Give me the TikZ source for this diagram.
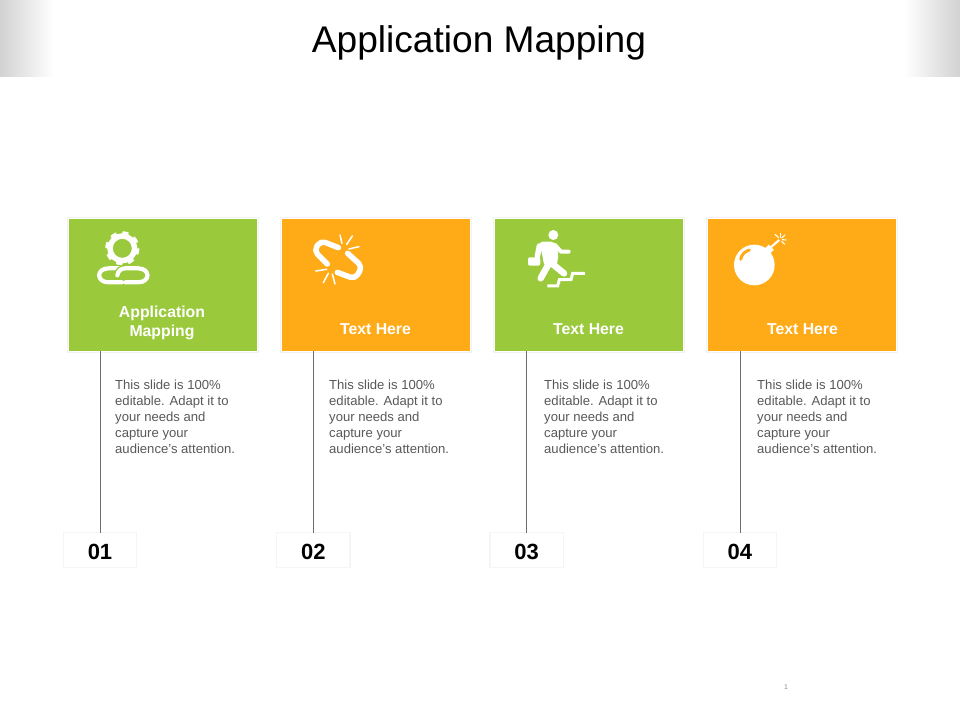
\documentclass[tikz,border=0pt]{standalone}
\usepackage{fontspec}
\setmainfont{Liberation Sans}
\usetikzlibrary{positioning}
\definecolor{cardgreen}{HTML}{9ACA3C}
\definecolor{cardorange}{HTML}{FFAB18}
\definecolor{bodygray}{HTML}{595959}
\definecolor{stemgray}{HTML}{6E6E6E}
\definecolor{cornergray}{HTML}{D2D2D2}
\tikzset{
    cardbox/.style={minimum width=189pt,minimum height=133pt,inner sep=0pt,draw=white,line width=1pt,
        preaction={draw=black!5,line width=3pt}},
    greencard/.style={cardbox,fill=cardgreen},
    orangecard/.style={cardbox,fill=cardorange},
    cardlabel/.style={text=white,font=\bfseries\fontsize{15.8}{19.5}\selectfont,align=center,inner sep=0pt},
    bodytext/.style={text=bodygray,font=\fontsize{13.1}{16}\selectfont,align=left,inner sep=0pt,anchor=north west},
    numbox/.style={minimum width=72pt,minimum height=34pt,inner sep=0pt,fill=white,text height=19pt,text depth=0pt,
        font=\bfseries\fontsize{22}{26}\selectfont,preaction={draw=black!4,line width=2.5pt}},
    stem/.style={draw=stemgray,line width=0.8pt},
    iconline/.style={draw=white,line width=5.5pt,line cap=round,line join=round},
    sparkline/.style={draw=white,line width=1.5pt,line cap=round},
    chainline/.style={iconline,line width=4.2pt,preaction={draw=cardgreen,line width=7pt}},
}
\begin{document}
\begin{tikzpicture}[x=1pt,y=-1pt,node distance=213.3pt,on grid]
    \useasboundingbox (0,0) rectangle (960,720);
    \fill[white] (0,0) rectangle (960,720);
    % top corners
    \shade[left color=cornergray,right color=white] (0,0) rectangle (54,76);
    \shade[left color=white,right color=cornergray] (904,0) rectangle (960,76);
    \node[font=\fontsize{37.1}{44}\selectfont,inner sep=0pt](title) at (479,43) {Application Mapping};
    % cards
    \node[greencard](card1) at (162.5,284.5) {};
    \node[orangecard](card2) [right= of card1] {};
    \node[greencard](card3) [right= of card2] {};
    \node[orangecard](card4) [right= of card3] {};
    \node[cardlabel](label1) at (162,323) {Application\\Mapping};
    \node[cardlabel](label2) at (375.5,329.5) {Text Here};
    \node[cardlabel](label3) at (588.5,329.5) {Text Here};
    \node[cardlabel](label4) at (802.5,329.5) {Text Here};
    % numbers
    \node[numbox](num1) at (100,550) {01};
    \node[numbox](num2) [right= of num1] {02};
    \node[numbox](num3) [right= of num2] {03};
    \node[numbox](num4) [right= of num3] {04};
    % stems
    \coordinate (top1) at (100.5,351);
    \coordinate (top2) at (313.5,351);
    \coordinate (top3) at (526.5,351);
    \coordinate (top4) at (740.5,351);
    \draw[stem] (top1) -- (top1 |- num1.north);
    \draw[stem] (top2) -- (top2 |- num2.north);
    \draw[stem] (top3) -- (top3 |- num3.north);
    \draw[stem] (top4) -- (top4 |- num4.north);
    % body text
    \node[bodytext](body1) at (115,380) {This slide is 100\%\\editable. Adapt it to\\your needs and\\capture your\\audience's attention.};
    \node[bodytext](body2) at (329,380) {This slide is 100\%\\editable. Adapt it to\\your needs and\\capture your\\audience's attention.};
    \node[bodytext](body3) at (544,380) {This slide is 100\%\\editable. Adapt it to\\your needs and\\capture your\\audience's attention.};
    \node[bodytext](body4) at (757,380) {This slide is 100\%\\editable. Adapt it to\\your needs and\\capture your\\audience's attention.};
    \node[text=black!45,font=\fontsize{7}{8}\selectfont,inner sep=0pt](pagenum) at (786,687) {1};
    % gear and chain
    \begin{scope}[shift={(60,210)},x=0.3333pt,y=-0.3333pt]
        \draw[white,line width=5.5pt] (187,115) circle (37);
        \draw[white,line width=3.5pt,dash pattern=on 6pt off 6.04pt] (187,115) circle (46);
        \draw[chainline] (182,175) -- (146,175) .. controls (108,175) and (108,217) .. (146,217) -- (186,217);
        \draw[chainline] (172,196) .. controls (174,182) and (184,175) .. (196,175) -- (234,175) .. controls (272,175) and (272,217) .. (234,217) -- (196,217);
    \end{scope}
    % broken link
    \begin{scope}[shift={(275,210)},x=0.3333pt,y=-0.3333pt]
        \draw[iconline,rounded corners=5pt] (190,113) -- (137,92) -- (117,122) -- (157,162);
        \draw[iconline,rounded corners=5pt] (218,130) -- (262,170) -- (240,207) -- (187,187);
        \draw[sparkline] (195,75) -- (201,100);
        \draw[sparkline] (232,78) -- (215,103);
        \draw[sparkline] (252,110) -- (222,117);
        \draw[sparkline] (122,183) -- (155,178);
        \draw[sparkline] (145,218) -- (160,190);
        \draw[sparkline] (180,222) -- (172,192);
    \end{scope}
    % runner on stairs
    \begin{scope}[shift={(490,210)},x=0.3333pt,y=-0.3333pt]
        \fill[white] (190,75) circle (15);
        \fill[white,rounded corners=4pt] (146,95) -- (194,95) -- (206,130) -- (200,170) -- (163,170) -- (155,125) -- cycle;
        \draw[iconline,line width=5.5pt] (148,108) -- (142,140);
        \draw[iconline,line width=4pt] (195,105) -- (213,125) -- (236,125);
        \draw[iconline,line width=6.5pt] (177,160) -- (152,205);
        \draw[iconline,line width=6.5pt] (185,160) -- (222,190);
        \fill[white,rounded corners=2pt] (114,142) rectangle (151,167);
        \draw[white,line width=3pt] (285,190) -- (248,190) -- (243,209) -- (208,209) -- (203,228) -- (172,228);
    \end{scope}
    % bomb
    \begin{scope}[shift={(700,210)},x=0.3333pt,y=-0.3333pt]
        \fill[white] (163,165) circle (61);
        \draw[white,line width=6pt] (200,110) -- (215,126);
        \draw[white,line width=2pt] (212,112) -- (238,90);
        \draw[cardorange,line width=3pt,line cap=round] (122,148) .. controls (125,133) and (135,124) .. (148,120);
        \draw[sparkline,line width=1.1pt] (225,73) -- (236,83);
        \draw[sparkline,line width=1.1pt] (241,70) -- (241,82);
        \draw[sparkline,line width=1.1pt] (255,75) -- (245,84);
        \draw[sparkline,line width=1.1pt] (258,90) -- (247,89);
        \draw[sparkline,line width=1.1pt] (254,103) -- (245,94);
    \end{scope}
\end{tikzpicture}
\end{document}
